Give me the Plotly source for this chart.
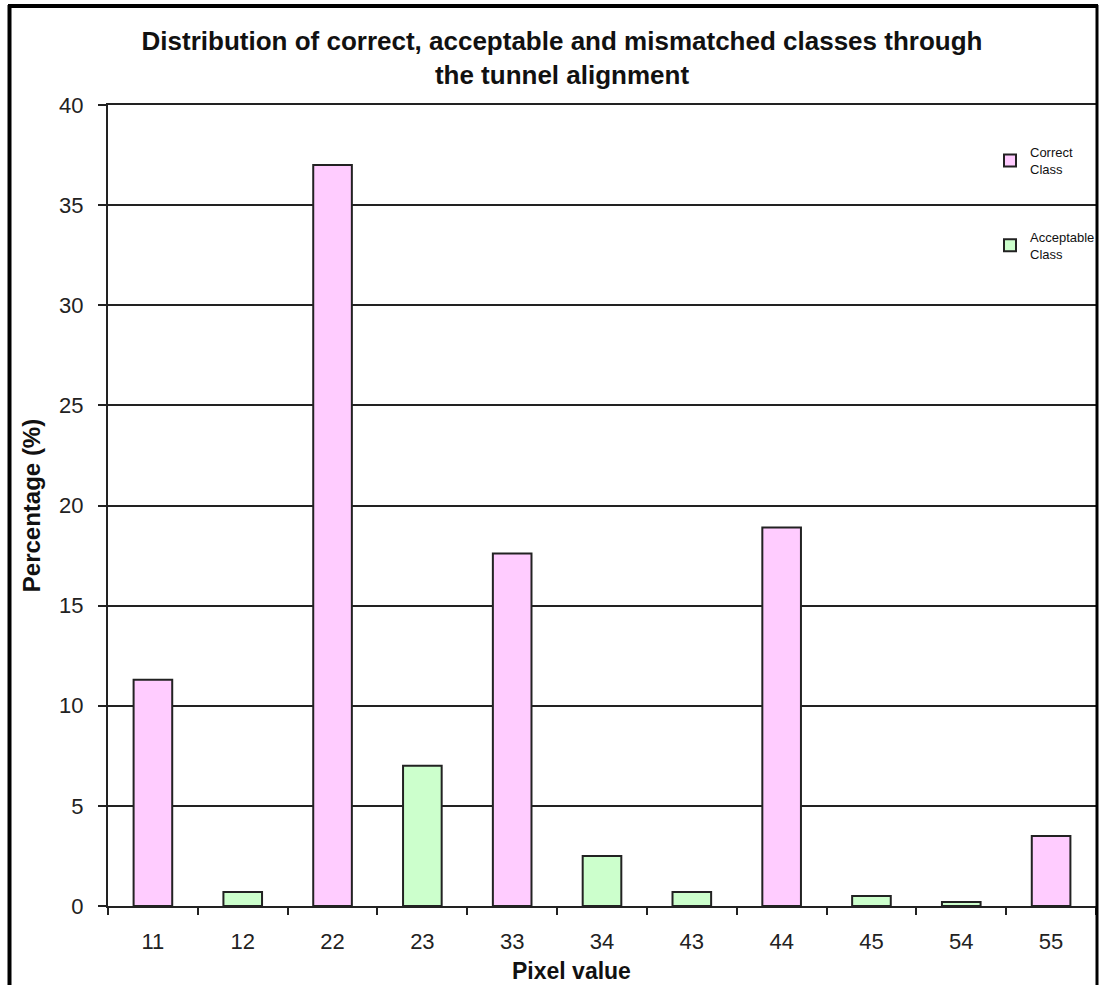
import plotly.graph_objects as go

# Pixel-value classes along the x axis, in display order
categories = ["11", "12", "22", "23", "33", "34", "43", "44", "45", "54", "55"]

# Correct class (diagonal pixel values)
correct_labels = ["11", "22", "33", "44", "55"]
correct_values = [11.3, 37.0, 17.6, 18.9, 3.5]

# Acceptable class (neighbouring pixel values)
acceptable_labels = ["12", "23", "34", "43", "45", "54"]
acceptable_values = [0.7, 7.0, 2.5, 0.7, 0.5, 0.2]

y_ticks = [0, 5, 10, 15, 20, 25, 30, 35, 40]

W, H = 1106, 985
L, R, T, B = 108, 10, 105, 79
PW, PH = W - L - R, H - T - B


def px_x(p):
    return (p - L) / PW


def px_y(p):
    return (H - B - p) / PH


font_family = "Liberation Sans, Arial, sans-serif"

fig = go.Figure()
fig.add_trace(go.Bar(
    x=correct_labels, y=correct_values, name="Correct<br>Class",
    marker=dict(color="#FFCCFF", line=dict(color="#222222", width=2)),
    width=0.43, legendgroup="c",
))
fig.add_trace(go.Bar(
    x=acceptable_labels, y=acceptable_values, name="Acceptable<br>Class",
    marker=dict(color="#CCFFCC", line=dict(color="#222222", width=2)),
    width=0.43, legendgroup="a",
))

# Outer chart frame
fig.add_shape(type="line", xref="paper", yref="paper", x0=px_x(9.5), x1=px_x(9.5),
              y0=px_y(5), y1=px_y(995), line=dict(color="black", width=4))
fig.add_shape(type="line", xref="paper", yref="paper", x0=px_x(8), x1=px_x(1098),
              y0=px_y(6), y1=px_y(6), line=dict(color="black", width=4))
fig.add_shape(type="line", xref="paper", yref="paper", x0=px_x(1097), x1=px_x(1097),
              y0=px_y(5), y1=px_y(995), line=dict(color="black", width=3))

# x-axis title, placed under the tick labels
fig.add_annotation(
    text="Pixel value", xref="paper", yref="paper",
    x=px_x(571), y=px_y(971), xanchor="center", yanchor="middle",
    showarrow=False, font=dict(size=23, weight="bold", color="#111111"),
)

fig.update_layout(
    width=W, height=H,
    margin=dict(l=L, r=R, t=T, b=B, autoexpand=False),
    paper_bgcolor="white", plot_bgcolor="white",
    barmode="overlay",
    font=dict(family=font_family, color="#222222"),
    title=dict(
        text="Distribution of correct, acceptable and mismatched classes through<br>the tunnel alignment",
        font=dict(size=26, weight="bold", color="#111111"),
        x=562 / W, xanchor="center", xref="container",
        y=1 - 50 / H, yanchor="top", yref="container",
    ),
    showlegend=True,
    legend=dict(
        x=px_x(990), xanchor="left", y=px_y(137), yanchor="top",
        bgcolor="rgba(0,0,0,0)", font=dict(size=13, color="#111111"),
        tracegroupgap=48, valign="middle", itemclick=False,
    ),
    xaxis=dict(
        type="category", categoryorder="array", categoryarray=categories,
        range=[-0.5, len(categories) - 0.5],
        tickson="boundaries", ticks="outside", ticklen=7, tickwidth=2,
        tickcolor="#222222",
        showline=True, linecolor="#222222", linewidth=2, mirror=True,
        showgrid=False,
        tickfont=dict(size=22, color="#222222"), ticklabelstandoff=15,
        automargin=False,
    ),
    yaxis=dict(
        range=[0, 40], tickvals=y_ticks, ticks="outside", ticklen=8, tickwidth=2,
        tickcolor="#222222",
        showline=True, linecolor="#222222", linewidth=2, mirror=True,
        showgrid=True, gridcolor="#222222", gridwidth=2, zeroline=False,
        tickfont=dict(size=22, color="#222222"), ticklabelstandoff=10,
        title=dict(text="Percentage (%)", font=dict(size=24, weight="bold", color="#111111"),
                   standoff=12),
        automargin=False,
    ),
)

fig.write_html("out.html")
